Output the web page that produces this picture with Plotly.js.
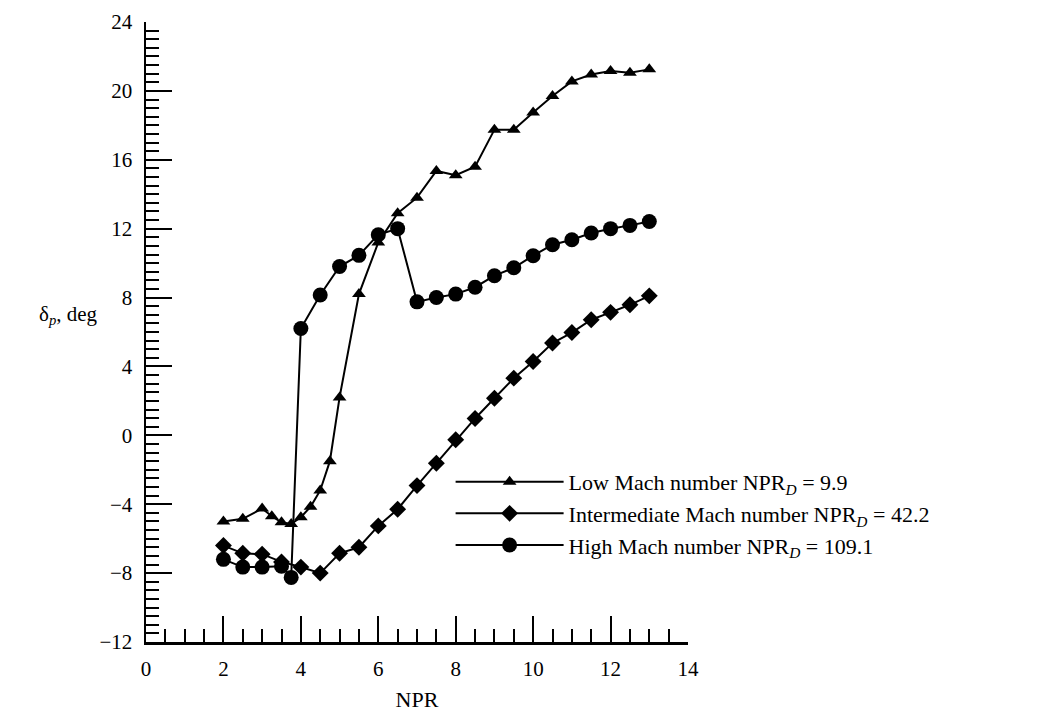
<!DOCTYPE html>
<html>
<head>
<meta charset="utf-8">
<script src="https://cdn.plot.ly/plotly-3.0.1.min.js"></script>
<style>html,body{margin:0;padding:0;background:#fff;}#chart{width:1049px;height:712px;}</style>
</head>
<body>
<div id="chart"></div>
<script>
// NPR values and flow-angle deviation (deg)
const lowNPR = [2, 2.5, 3, 3.25, 3.5, 3.75, 4, 4.25, 4.5, 4.75, 5, 5.5, 6, 6.5, 7, 7.5, 8, 8.5, 9, 9.5, 10, 10.5, 11, 11.5, 12, 12.5, 13];
const lowDelta = [-5.0, -4.85, -4.25, -4.7, -5.05, -5.15, -4.75, -4.15, -3.2, -1.5, 2.2, 8.2, 11.2, 12.9, 13.8, 15.35, 15.1, 15.6, 17.75, 17.75, 18.75, 19.7, 20.55, 20.95, 21.15, 21.05, 21.25];

const midNPR = [2, 2.5, 3, 3.5, 4, 4.5, 5, 5.5, 6, 6.5, 7, 7.5, 8, 8.5, 9, 9.5, 10, 10.5, 11, 11.5, 12, 12.5, 13];
const midDelta = [-6.4, -6.85, -6.9, -7.35, -7.65, -8.0, -6.85, -6.5, -5.26, -4.29, -2.92, -1.62, -0.26, 0.98, 2.15, 3.32, 4.29, 5.36, 5.97, 6.71, 7.14, 7.58, 8.1];

const highNPR = [2, 2.5, 3, 3.5, 3.75, 4, 4.5, 5, 5.5, 6, 6.5, 7, 7.5, 8, 8.5, 9, 9.5, 10, 10.5, 11, 11.5, 12, 12.5, 13];
const highDelta = [-7.2, -7.65, -7.65, -7.6, -8.25, 6.2, 8.15, 9.8, 10.45, 11.65, 12.0, 7.75, 8.0, 8.2, 8.6, 9.27, 9.73, 10.43, 11.07, 11.36, 11.75, 12.0, 12.19, 12.42];

const seriesNames = [
  'Low Mach number NPR<sub><i>D</i></sub> = 9.9',
  'Intermediate Mach number NPR<sub><i>D</i></sub> = 42.2',
  'High Mach number NPR<sub><i>D</i></sub> = 109.1'
];

const xTickVals = [0, 2, 4, 6, 8, 10, 12, 14];
const yTickVals = [-12, -8, -4, 0, 4, 8, 12, 16, 20, 24];
const fmt = v => (v < 0 ? '\u2212' + Math.abs(v) : String(v));

const font = 'Liberation Serif, Times New Roman, serif';
const ink = '#000000';

const traces = [
  {x: lowNPR, y: lowDelta, name: seriesNames[0], mode: 'lines+markers', type: 'scatter',
   line: {color: ink, width: 2}, marker: {symbol: 'triangle-up', size: 12, color: ink}},
  {x: midNPR, y: midDelta, name: seriesNames[1], mode: 'lines+markers', type: 'scatter',
   line: {color: ink, width: 2}, marker: {symbol: 'diamond', size: 13, color: ink}},
  {x: highNPR, y: highDelta, name: seriesNames[2], mode: 'lines+markers', type: 'scatter',
   line: {color: ink, width: 2}, marker: {symbol: 'circle', size: 15, color: ink}}
];

const layout = {
  width: 1049, height: 712,
  margin: {l: 146, r: 361, t: 22, b: 70},
  paper_bgcolor: '#fff', plot_bgcolor: '#fff',
  font: {family: font, color: ink, size: 20},
  showlegend: true,
  legend: {x: 0.562, y: 0.292, xanchor: 'left', yanchor: 'top', bgcolor: 'rgba(0,0,0,0)',
           font: {family: font, size: 22, color: ink}, itemwidth: 108, tracegroupgap: 0},
  xaxis: {
    range: [0, 14], tickvals: xTickVals, ticktext: xTickVals.map(fmt),
    showgrid: false, zeroline: false, showline: true, linecolor: ink, linewidth: 2.5,
    ticks: 'inside', ticklen: 26, tickwidth: 2, tickcolor: ink, ticklabelstandoff: 6,
    minor: {dtick: 0.5, tick0: 0, ticks: 'inside', ticklen: 13, tickwidth: 2, tickcolor: ink, showgrid: false},
    tickfont: {family: font, size: 21, color: ink},
    title: {text: 'NPR', font: {family: font, size: 22, color: ink}, standoff: 14}
  },
  yaxis: {
    range: [-12, 24], tickvals: yTickVals, ticktext: yTickVals.map(fmt),
    showgrid: false, zeroline: false, showline: true, linecolor: ink, linewidth: 2.5,
    ticks: 'inside', ticklen: 26, tickwidth: 2, tickcolor: ink, ticklabelstandoff: 7,
    minor: {dtick: 0.5, tick0: 0, ticks: 'inside', ticklen: 13, tickwidth: 2, tickcolor: ink, showgrid: false},
    tickfont: {family: font, size: 21, color: ink}
  },
  annotations: [
    {text: 'δ<sub><i>p</i></sub>, deg', xref: 'paper', yref: 'paper', x: -0.085, y: 0.527,
     xanchor: 'right', yanchor: 'middle', showarrow: false, font: {family: font, size: 21, color: ink}}
  ]
};

Plotly.newPlot('chart', traces, layout, {displayModeBar: false, staticPlot: true});
</script>
</body>
</html>
